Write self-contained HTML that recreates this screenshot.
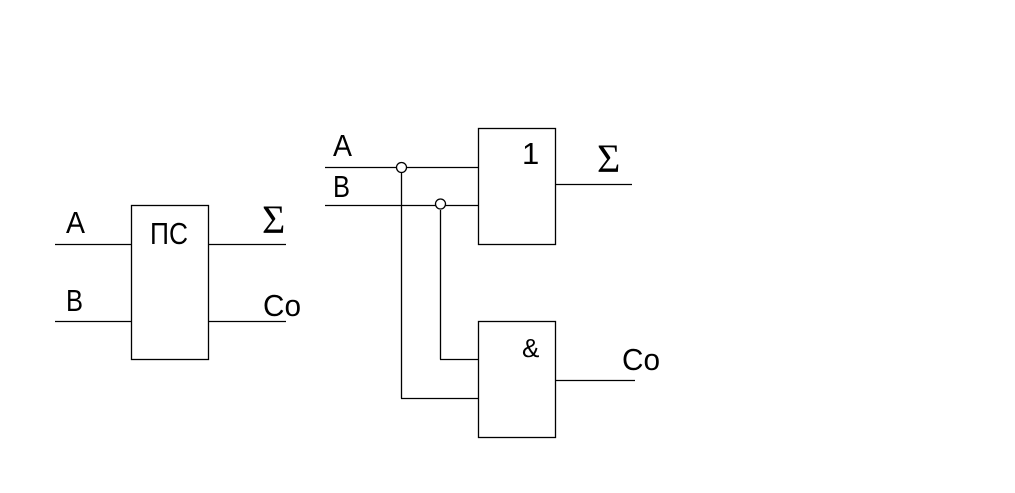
<!DOCTYPE html>
<html><head><style>body{margin:0;background:#fff}svg{display:block}</style></head><body>
<svg width="1015" height="493" xmlns="http://www.w3.org/2000/svg">
<g stroke="#000" stroke-width="1.3" fill="none">
<rect x="131.5" y="205.5" width="77" height="154"/>
<line x1="55" y1="244.5" x2="131" y2="244.5"/>
<line x1="55" y1="321.5" x2="131" y2="321.5"/>
<line x1="208" y1="244.5" x2="286" y2="244.5"/>
<line x1="208" y1="321.5" x2="286" y2="321.5"/>
<rect x="478.5" y="128.5" width="77" height="116"/>
<rect x="478.5" y="321.5" width="77" height="116"/>
<line x1="325" y1="167.5" x2="478" y2="167.5"/>
<line x1="325" y1="205.5" x2="478" y2="205.5"/>
<line x1="401.5" y1="172" x2="401.5" y2="398.5"/>
<line x1="401" y1="398.5" x2="478" y2="398.5"/>
<line x1="440.5" y1="210" x2="440.5" y2="359.5"/>
<line x1="440" y1="359.5" x2="478" y2="359.5"/>
<circle cx="401.5" cy="167.5" r="5" fill="#fff"/>
<circle cx="440.5" cy="204" r="5" fill="#fff"/>
<line x1="555" y1="184.5" x2="632" y2="184.5"/>
<line x1="555" y1="380.5" x2="635" y2="380.5"/>
</g>
<g font-family="Liberation Sans, sans-serif" font-size="31" fill="#000">
<text x="66" y="233" textLength="19" lengthAdjust="spacingAndGlyphs">A</text>
<text x="66" y="311" textLength="17" lengthAdjust="spacingAndGlyphs">B</text>
<text x="150" y="244" textLength="38" lengthAdjust="spacingAndGlyphs">ПС</text>
<text x="262" y="233" font-family="Liberation Serif, serif" font-size="40">Σ</text>
<text x="263" y="316" textLength="38" lengthAdjust="spacingAndGlyphs">Co</text>
<text x="333" y="156" textLength="19" lengthAdjust="spacingAndGlyphs">A</text>
<text x="333" y="197" textLength="17" lengthAdjust="spacingAndGlyphs">B</text>
<text x="522" y="164">1</text>
<text x="597" y="172" font-family="Liberation Serif, serif" font-size="40">Σ</text>
<text x="522" y="357" font-size="26">&amp;</text>
<text x="622" y="370" textLength="38" lengthAdjust="spacingAndGlyphs">Co</text>
</g>
</svg>
</body></html>
